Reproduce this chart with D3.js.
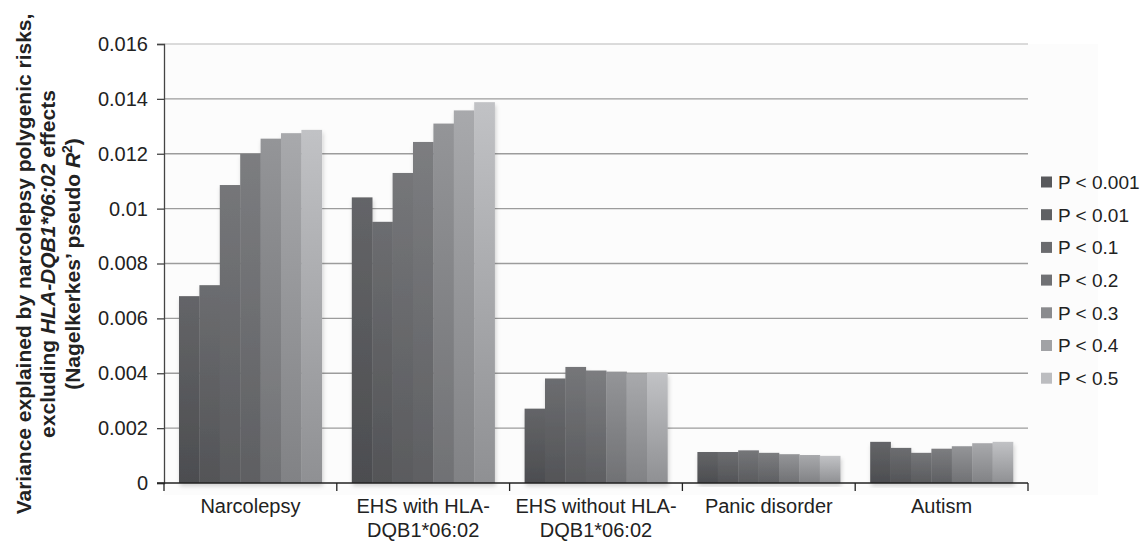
<!DOCTYPE html>
<html>
<head>
<meta charset="utf-8">
<script src="https://cdn.jsdelivr.net/npm/d3@7"></script>
<style>
  body { margin: 0; background: #fff; }
  text { font-family: "Liberation Sans", Arial, sans-serif; }
</style>
</head>
<body>
<div id="chart"></div>
<script>
// categories and thresholds
const categories = ["Narcolepsy", "EHS with HLA-DQB1*06:02", "EHS without HLA-DQB1*06:02", "Panic disorder", "Autism"];
const categoryLines = [["Narcolepsy"], ["EHS with HLA-", "DQB1*06:02"], ["EHS without HLA-", "DQB1*06:02"], ["Panic disorder"], ["Autism"]];
const thresholds = ["P < 0.001", "P < 0.01", "P < 0.1", "P < 0.2", "P < 0.3", "P < 0.4", "P < 0.5"];

// values per threshold, one entry per category
const p0001 = [0.00681, 0.01041, 0.00271, 0.00113, 0.00150];
const p001  = [0.00721, 0.00952, 0.00381, 0.00113, 0.00128];
const p01   = [0.01086, 0.01130, 0.00423, 0.00119, 0.00110];
const p02   = [0.01200, 0.01243, 0.00410, 0.00110, 0.00125];
const p03   = [0.01255, 0.01310, 0.00406, 0.00105, 0.00134];
const p04   = [0.01275, 0.01358, 0.00399, 0.00102, 0.00145];
const p05   = [0.01287, 0.01388, 0.00401, 0.00099, 0.00150];
const seriesValues = [p0001, p001, p01, p02, p03, p04, p05];

const yTicks = [0, 0.002, 0.004, 0.006, 0.008, 0.01, 0.012, 0.014, 0.016];

// bar shading: top / bottom / legend swatch
const topColors    = ["#646568", "#6c6d70", "#757679", "#7c7d80", "#949598", "#a8a9ac", "#c1c2c5"];
const bottomColors = ["#4c4d50", "#535457", "#5a5b5e", "#5e5f62", "#707174", "#818285", "#8f9093"];
const swatchColors = ["#58595c", "#5f6063", "#6a6b6e", "#707174", "#8a8b8e", "#a1a2a5", "#bcbdc0"];

const width = 1145, height = 542;
const margin = { top: 44, right: 117, bottom: 59, left: 164 };
const innerWidth = width - margin.left - margin.right;
const innerHeight = height - margin.top - margin.bottom;

const svg = d3.select("#chart").append("svg")
  .attr("width", width)
  .attr("height", height);

const defs = svg.append("defs");
thresholds.forEach((t, i) => {
  const grad = defs.append("linearGradient")
    .attr("id", "grad" + i)
    .attr("x1", 0).attr("y1", 0).attr("x2", 0).attr("y2", 1);
  grad.append("stop").attr("offset", "0%").attr("stop-color", topColors[i]);
  grad.append("stop").attr("offset", "100%").attr("stop-color", bottomColors[i]);
});
const shadow = defs.append("filter").attr("id", "shadow")
  .attr("x", "-10%").attr("y", "-5%").attr("width", "130%").attr("height", "115%");
shadow.append("feDropShadow")
  .attr("dx", 1).attr("dy", 3).attr("stdDeviation", 2)
  .attr("flood-color", "#000").attr("flood-opacity", 0.18);

// faint plot background
svg.append("rect")
  .attr("x", margin.left).attr("y", margin.top)
  .attr("width", innerWidth + 70).attr("height", innerHeight + 12)
  .attr("fill", "#fcfcfc");

const g = svg.append("g")
  .attr("transform", `translate(${margin.left},${margin.top})`);

const x0 = d3.scaleBand()
  .domain(categories)
  .range([0, innerWidth]);

const x1 = d3.scaleBand()
  .domain(thresholds)
  .range([0, x0.bandwidth()])
  .paddingOuter(0.735);

const y = d3.scaleLinear()
  .domain([0, 0.016])
  .range([innerHeight, 0]);

// gridlines
g.append("g")
  .selectAll("line")
  .data(yTicks.slice(1))
  .enter().append("line")
  .attr("x1", 0)
  .attr("x2", innerWidth)
  .attr("y1", d => y(d))
  .attr("y2", d => y(d))
  .attr("stroke", d => d === 0.016 ? "#cfcfcf" : "#9c9c9c")
  .attr("stroke-width", 1.3);

// bars
const groups = g.selectAll("g.cat")
  .data(categories)
  .enter().append("g")
  .attr("class", "cat")
  .attr("transform", d => `translate(${x0(d)},0)`)
  .attr("filter", "url(#shadow)");

groups.selectAll("rect")
  .data((c, ci) => thresholds.map((t, si) => ({ t, si, v: seriesValues[si][ci] })))
  .enter().append("rect")
  .attr("x", d => x1(d.t))
  .attr("width", x1.bandwidth() + 0.3)
  .attr("y", d => y(d.v))
  .attr("height", d => innerHeight - y(d.v))
  .attr("fill", d => `url(#grad${d.si})`);

// y axis
const yAxis = g.append("g")
  .call(d3.axisLeft(y).tickValues(yTicks).tickSize(7).tickPadding(9)
    .tickFormat(d => d === 0 ? "0" : d3.format("")(+d.toFixed(3))));
yAxis.select(".domain").attr("stroke", "#444").attr("stroke-width", 1.3);
yAxis.selectAll(".tick line").attr("stroke", "#444").attr("stroke-width", 1.3);
yAxis.selectAll("text")
  .attr("font-size", "20px")
  .attr("fill", "#222")
  .style("font-family", "'Liberation Sans', Arial, sans-serif");

// x axis
const xAxis = g.append("g")
  .attr("transform", `translate(0,${innerHeight})`);
xAxis.append("line")
  .attr("x1", -7).attr("x2", innerWidth)
  .attr("stroke", "#222").attr("stroke-width", 1.5);
const boundaries = categories.map(c => x0(c)).concat([x0.range()[1]]);
xAxis.selectAll("line.tk")
  .data(boundaries)
  .enter().append("line")
  .attr("class", "tk")
  .attr("x1", d => d).attr("x2", d => d)
  .attr("y1", 0).attr("y2", 8)
  .attr("stroke", "#222").attr("stroke-width", 1.3);

categoryLines.forEach((lines, i) => {
  const t = xAxis.append("text")
    .attr("text-anchor", "middle")
    .attr("font-size", "20px")
    .attr("fill", "#222");
  lines.forEach((ln, j) => {
    t.append("tspan")
      .attr("x", x0(categories[i]) + x0.bandwidth() / 2)
      .attr("y", 30 + j * 24)
      .text(ln);
  });
});

// y axis title
const title = svg.append("g")
  .attr("transform", "translate(0,264) rotate(-90)");
const tl1 = title.append("text")
  .attr("text-anchor", "middle").attr("y", 31)
  .attr("font-size", "21px").attr("font-weight", "bold").attr("fill", "#222")
  .text("Variance explained by narcolepsy polygenic risks,");
const tl2 = title.append("text")
  .attr("text-anchor", "middle").attr("y", 55)
  .attr("font-size", "21px").attr("font-weight", "bold").attr("fill", "#222");
tl2.append("tspan").text("excluding ");
tl2.append("tspan").attr("font-style", "italic").text("HLA-DQB1*06:02");
tl2.append("tspan").text(" effects");
const tl3 = title.append("text")
  .attr("text-anchor", "middle").attr("y", 80)
  .attr("font-size", "21px").attr("font-weight", "bold").attr("fill", "#222");
tl3.append("tspan").text("(Nagelkerkes\u2019 pseudo ");
tl3.append("tspan").attr("font-style", "italic").text("R");
tl3.append("tspan").attr("font-size", "14px").attr("dy", "-8").text("2");
tl3.append("tspan").attr("dy", "8").text(")");

// legend
const legend = svg.append("g")
  .attr("transform", "translate(1041,182)");
thresholds.forEach((t, i) => {
  const row = legend.append("g").attr("transform", `translate(0,${i * 32.7})`);
  row.append("rect")
    .attr("x", 0).attr("y", -5.5)
    .attr("width", 11).attr("height", 11)
    .attr("fill", swatchColors[i]);
  row.append("text")
    .attr("x", 17)
    .attr("dy", "0.36em")
    .attr("font-size", "19px")
    .attr("fill", "#222")
    .text(t);
});
</script>
</body>
</html>
